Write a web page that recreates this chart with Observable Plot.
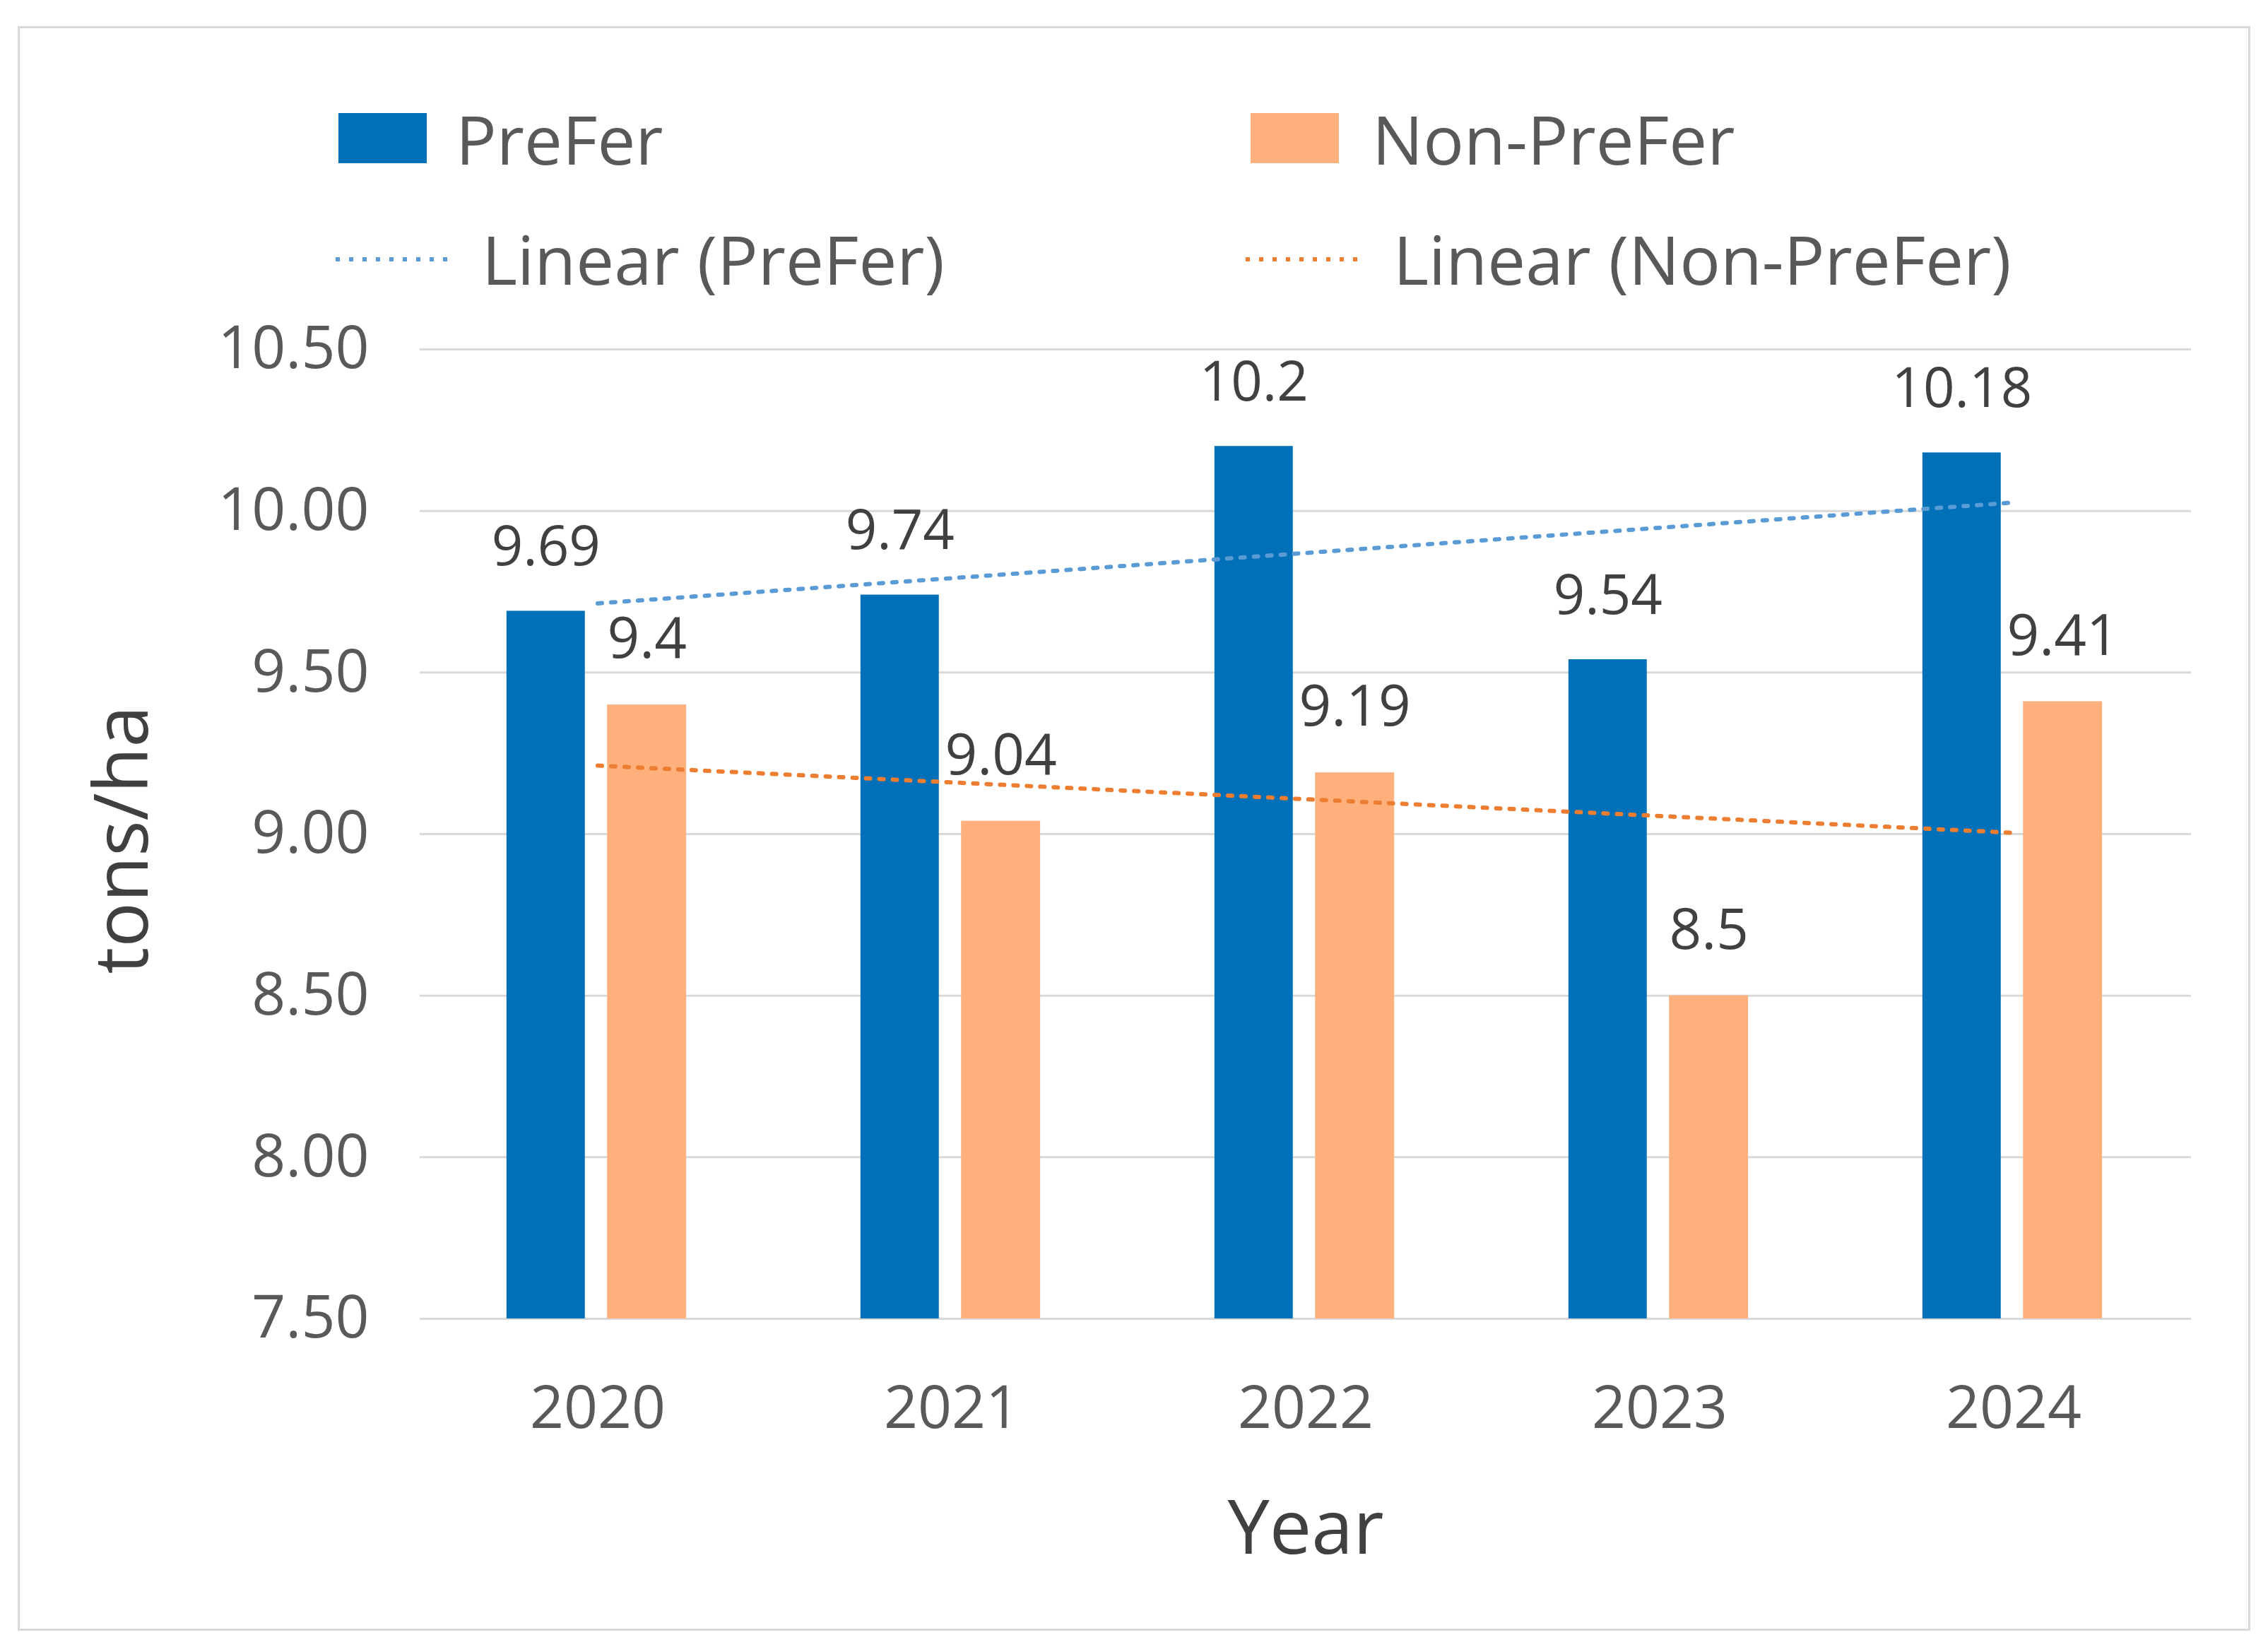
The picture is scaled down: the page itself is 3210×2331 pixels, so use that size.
<!DOCTYPE html>
<html>
<head>
<meta charset="utf-8">
<script src="https://cdn.jsdelivr.net/npm/d3@7"></script>
<script src="https://cdn.jsdelivr.net/npm/@observablehq/plot@0.6"></script>
<style>
  body { margin: 0; background: #fff; }
  #wrap { position: relative; width: 3210px; height: 2331px; background: #fff; font-family: "Open Sans", sans-serif; overflow: hidden; }
  #frame { position: absolute; left: 25px; top: 37px; width: 3160px; height: 2271px; border: 3px solid #d9d9d9; box-sizing: border-box; pointer-events: none; }
  #chart { position: absolute; left: 0; top: 420px; }
  .leg { position: absolute; font-size: 96px; line-height: 96px; color: #595959; white-space: nowrap; }
  .sw { position: absolute; }
  .ln { position: absolute; overflow: visible; }
</style>
</head>
<body>
<div id="wrap">
  <div id="chart"></div>
  <div id="legend"></div>
  <div id="frame"></div>
</div>
<script>
// ---- data ----
const years = [2020, 2021, 2022, 2023, 2024];
const prefer = [9.69, 9.74, 10.2, 9.54, 10.18];
const nonPrefer = [9.4, 9.04, 9.19, 8.5, 9.41];
const seriesNames = ["PreFer", "Non-PreFer"];
const trendNames = ["Linear (PreFer)", "Linear (Non-PreFer)"];
const barColors = ["#0070B8", "#FFB07C"];
const trendColors = ["#5B9BD5", "#ED7D31"];
const yTicks = [7.5, 8.0, 8.5, 9.0, 9.5, 10.0, 10.5];
const xTitle = "Year";
const yTitle = "tons/ha";

// ---- derived tables ----
const rowsP = years.map((year, i) => ({year, series: seriesNames[0], value: prefer[i]}));
const rowsN = years.map((year, i) => ({year, series: seriesNames[1], value: nonPrefer[i]}));

function linearTrend(vals, name) {
  const xs = vals.map((_, i) => i + 1);
  const mx = d3.mean(xs), my = d3.mean(vals);
  const b = d3.sum(xs, (x, i) => (x - mx) * (vals[i] - my)) / d3.sum(xs, x => (x - mx) ** 2);
  const a = my - b * mx;
  return years.map((year, i) => ({year, series: name, value: a + b * xs[i]}));
}
const trendP = linearTrend(prefer, trendNames[0]);
const trendN = linearTrend(nonPrefer, trendNames[1]);

// ---- layout ----
const W = 3210, H = 1870, mL = 594, mR = 109, mT = 74, mB = 424;
const bw = (W - mL - mR) / years.length;
const fmtVal = d => String(d.value);

const chart = Plot.plot({
  width: W,
  height: H,
  marginLeft: mL,
  marginRight: mR,
  marginTop: mT,
  marginBottom: mB,
  style: {fontFamily: "'Open Sans', sans-serif", fontSize: "84px", color: "#595959", background: "none", overflow: "visible"},
  x: {type: "band", domain: years, padding: 0},
  y: {domain: [yTicks[0], yTicks[yTicks.length - 1]]},
  marks: [
    Plot.ruleY(yTicks, {stroke: "#d9d9d9", strokeWidth: 3}),
    Plot.barY(rowsP, {x: "year", y1: yTicks[0], y2: "value", fill: barColors[0],
      insetLeft: 0.243 * bw, insetRight: (1 - 0.465) * bw}),
    Plot.barY(rowsN, {x: "year", y1: yTicks[0], y2: "value", fill: barColors[1],
      insetLeft: 0.527 * bw, insetRight: (1 - 0.751) * bw}),
    Plot.line(trendP, {x: "year", y: "value", stroke: trendColors[0], strokeWidth: 6, strokeDasharray: "6 13"}),
    Plot.line(trendN, {x: "year", y: "value", stroke: trendColors[1], strokeWidth: 6, strokeDasharray: "6 13"}),
    Plot.text(rowsP, {x: "year", y: "value", text: fmtVal, dx: -0.146 * bw, dy: -90, fontSize: 78, fill: "#404040"}),
    Plot.text(rowsN, {x: "year", y: "value", text: fmtVal, dx: 0.139 * bw, dy: -92, fontSize: 80, fill: "#404040"}),
    Plot.axisY({ticks: yTicks, tickFormat: d3.format(".2f"), tickSize: 0, tickPadding: 72, label: null, fill: "#595959"}),
    Plot.axisX({tickSize: 0, tickPadding: 95, label: null, tickFormat: d => String(d), fill: "#595959"}),
    Plot.text([yTitle], {text: d => d, frameAnchor: "left", textAnchor: "middle", rotate: -90, dx: -419, dy: 8, fontSize: 106, fill: "#404040"}),
    Plot.text([xTitle], {text: d => d, frameAnchor: "bottom", textAnchor: "middle", lineAnchor: "top", dy: 257, fontSize: 106, fill: "#404040"})
  ]
});
document.getElementById("chart").appendChild(chart);

// ---- legend ----
const legend = document.getElementById("legend");
const swatches = [
  {x: 479, text: 645, color: barColors[0], label: seriesNames[0]},
  {x: 1770, text: 1942, color: barColors[1], label: seriesNames[1]}
];
swatches.forEach(s => {
  const sw = document.createElement("div");
  sw.className = "sw";
  Object.assign(sw.style, {left: s.x + "px", top: "160px", width: "125px", height: "71px", background: s.color});
  legend.appendChild(sw);
  const t = document.createElement("div");
  t.className = "leg";
  t.textContent = s.label;
  Object.assign(t.style, {left: s.text + "px", top: "148px"});
  legend.appendChild(t);
});
const lines = [
  {x: 475, text: 682, color: trendColors[0], label: trendNames[0]},
  {x: 1763, text: 1972, color: trendColors[1], label: trendNames[1]}
];
lines.forEach(l => {
  const svg = d3.create("svg").attr("class", "ln").attr("width", 160).attr("height", 10)
    .style("left", l.x + "px").style("top", "362px");
  svg.append("line").attr("x1", 0).attr("x2", 160).attr("y1", 5).attr("y2", 5)
    .attr("stroke", l.color).attr("stroke-width", 6).attr("stroke-dasharray", "6 13");
  legend.appendChild(svg.node());
  const t = document.createElement("div");
  t.className = "leg";
  t.textContent = l.label;
  Object.assign(t.style, {left: l.text + "px", top: "318px"});
  legend.appendChild(t);
});
</script>
</body>
</html>
